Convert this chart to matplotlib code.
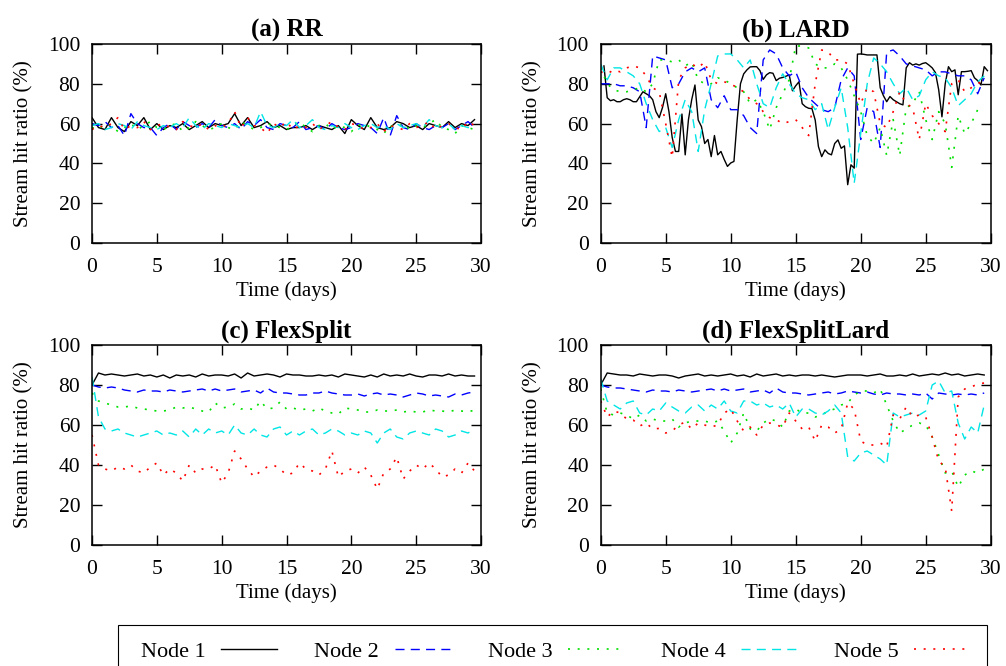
import numpy as np
import matplotlib
matplotlib.use('Agg')
import matplotlib.pyplot as plt
from matplotlib.patches import Rectangle

plt.rcParams['font.family'] = ['Liberation Serif', 'DejaVu Serif']
plt.rcParams['font.size'] = 15

# sampling: every 12 h, except LARD node 1 which is read every 6 h
t_half = np.arange(60) * 0.5
t_quarter = np.arange(1, 120) * 0.25

node_names = ['Node 1', 'Node 2', 'Node 3', 'Node 4', 'Node 5']

# (a) RR
rr_node1 = [63, 58, 57, 63, 58, 56, 61, 59, 63, 57, 60, 57, 59, 58, 60, 57, 59, 61, 58, 60,
            59, 60, 65, 59, 63, 58, 59, 61, 58, 59, 57, 58, 58, 59, 57, 59, 58, 57, 59, 55,
            62, 59, 57, 63, 58, 57, 58, 61, 60, 58, 59, 57, 60, 59, 58, 61, 58, 60, 59, 62]
rr_node2 = [60, 59, 61, 58, 59, 54, 65, 60, 58, 58, 54, 58, 60, 57, 61, 59, 58, 60, 58, 62,
            59, 58, 60, 57, 61, 59, 62, 58, 57, 60, 59, 58, 61, 57, 58, 59, 57, 60, 58, 57,
            58, 60, 59, 58, 55, 63, 54, 64, 58, 57, 60, 58, 57, 59, 58, 60, 57, 59, 61, 58]
rr_node3 = [58, 57, 60, 59, 56, 58, 60, 57, 59, 61, 58, 57, 59, 60, 56, 58, 61, 59, 57, 58,
            60, 58, 57, 61, 59, 57, 58, 60, 59, 58, 57, 59, 61, 58, 56, 59, 60, 57, 59, 58,
            56, 59, 60, 58, 57, 55, 59, 58, 60, 57, 59, 58, 60, 62, 58, 57, 55, 59, 58, 57]
rr_node4 = [59, 60, 57, 58, 60, 59, 57, 61, 59, 58, 57, 59, 58, 60, 58, 63, 59, 57, 60, 59,
            58, 60, 59, 58, 60, 58, 66, 59, 58, 60, 59, 62, 58, 59, 62, 58, 57, 59, 58, 60,
            58, 57, 59, 60, 58, 59, 57, 60, 58, 59, 60, 58, 62, 59, 58, 60, 57, 59, 58, 58]
rr_node5 = [57, 59, 58, 60, 63, 57, 59, 58, 61, 57, 59, 60, 58, 57, 61, 59, 58, 60, 57, 59,
            58, 60, 66, 58, 63, 59, 58, 55, 60, 58, 61, 57, 59, 58, 60, 57, 59, 61, 58, 57,
            60, 59, 57, 58, 60, 56, 59, 58, 57, 60, 58, 59, 61, 57, 59, 60, 58, 57, 61, 59]

# (b) LARD
lard_node1 = [89, 73, 71.5, 72, 71, 71, 72, 72.5, 72, 71,
              71, 73.5, 76, 75, 74, 72, 66, 63, 68, 75,
              66, 53, 46, 46, 64.8, 44.3, 62, 72, 79.4, 61.8,
              58.5, 50, 52, 43.4, 54, 44.3, 46, 42, 38.5, 40.2,
              41, 62, 80, 85, 87, 88.5, 88.6, 88.6, 86.6, 82.2,
              84.5, 85.6, 85.3, 81.6, 82.8, 83.2, 83.8, 84.5, 76.5, 79,
              81, 70, 68.5, 67.7, 67.5, 61.8, 48.4, 43.4, 46.8, 45,
              44.3, 50, 51.8, 47.6, 48.8, 29.3, 39.3, 37.6, 94.9, 95,
              94.8, 94.5, 94.5, 94.5, 94.5, 78, 74, 71, 73.6, 72,
              71, 70, 69.4, 88, 90.6, 89.4, 90, 89.4, 90.2, 90.6,
              89.4, 88, 85.6, 77, 63.4, 80, 88.6, 86.1, 87, 74.5,
              86.1, 86.1, 86.3, 86.6, 83, 81.6, 79.4, 88.6, 86.6]
lard_node2 = [80, 80, 80, 79, 79, 78, 76, 58, 94, 93, 92, 78, 80, 86, 88, 86, 88, 72, 68, 74,
              67, 67, 64, 58, 55, 92, 97, 95, 88, 84, 86, 78, 73, 70, 67, 66, 68, 82, 88, 84,
              52, 68, 66, 48, 96, 97, 94, 90, 89, 88, 87, 84, 86, 86, 85, 84, 84, 82, 75, 83]
lard_node3 = [88, 80, 77, 76, 76, 77, 78, 76, 80, 92, 92, 91, 92, 89, 91, 82, 80, 80, 83, 82,
              80, 78, 76, 70, 72, 66, 57, 68, 75, 82, 99, 99, 98, 90, 88, 88, 90, 88, 82, 74,
              66, 54, 50, 58, 44, 62, 44, 68, 70, 76, 62, 52, 66, 60, 38, 64, 55, 60, 67, 66]
lard_node4 = [90, 82, 88, 88, 86, 84, 80, 70, 62, 56, 58, 48, 62, 72, 66, 46, 67, 80, 94, 95,
              95, 92, 88, 92, 80, 70, 68, 78, 85, 80, 75, 73, 72, 67, 70, 57, 68, 78, 58, 30,
              55, 80, 93, 90, 86, 80, 75, 78, 72, 74, 82, 86, 84, 83, 78, 69, 72, 75, 81, 84]
lard_node5 = [86, 85, 87, 86, 88, 89, 88, 84, 78, 76, 60, 43, 82, 88, 90, 88, 91, 82, 80, 81,
              80, 78, 76, 72, 70, 66, 63, 62, 60, 61, 62, 58, 54, 80, 97, 96, 92, 92, 90, 80,
              70, 78, 76, 60, 58, 66, 76, 70, 68, 52, 70, 64, 60, 56, 80, 82, 76, 78, 80, 82]

# (c) FlexSplit
fs_node1 = [80, 86, 85, 85.5, 85, 84.5, 85, 85.5, 84.5, 85, 84, 85, 83.5, 85, 84.5, 85, 84, 85.5, 84.5, 85,
            85, 84.5, 85.5, 83.5, 86, 84.5, 85, 85.5, 85, 84, 85.5, 85, 85, 84.5, 84.5, 85, 84.5, 85, 84, 85.5,
            85, 84.5, 84, 85, 84, 85.5, 84.5, 85, 84.5, 85.5, 84.5, 84, 85, 85, 84.5, 85.5, 84.5, 85, 84.5, 84.5]
fs_node2 = [80, 79, 78.5, 79, 78.5, 77.5, 77, 76.5, 77.5, 77, 77, 76.5, 77.5, 77, 76.5, 77, 77.5, 78, 77, 78,
            77, 77.5, 78, 76.5, 77, 77.5, 76, 78.5, 76.5, 76, 76, 75.5, 75, 75, 76, 76, 77, 76, 75.5, 75,
            75, 75.5, 74.5, 75.5, 76, 75, 75.5, 75, 74, 75, 76, 75.5, 74.5, 75, 74.5, 74, 75.5, 75, 76, 76.5]
fs_node3 = [76, 72, 71, 70, 69, 69, 69.5, 68.5, 68, 67.5, 67, 67, 67.5, 69, 68.5, 69, 68, 67, 66.5, 71,
            68.5, 69, 70.5, 68, 68.5, 67.5, 72, 68, 68.5, 71.5, 68, 68.5, 67.5, 68, 67, 68.5, 67, 66, 65.5, 68.5,
            68, 67.5, 66.5, 66.5, 67.5, 67, 67, 67.5, 66.5, 67, 66.5, 66.5, 67.5, 67, 67, 66.5, 67.5, 67, 66.5, 67.5]
fs_node4 = [84, 64, 58, 57, 58, 56, 55, 54, 55, 56, 57, 55, 56, 55, 57, 54, 58, 55, 58, 56,
            57, 55, 60, 56, 55, 58, 55, 54, 58, 59, 55, 57, 55, 57, 58, 55, 56, 58, 57, 55,
            56, 55, 57, 56, 51, 56, 58, 54, 53, 56, 57, 56, 55, 58, 57, 54, 55, 57, 56, 58]
fs_node5 = [55, 40, 38, 37, 39, 38, 40, 37, 36, 39, 41, 35, 38, 36, 32, 40, 36, 38, 38, 40,
            31, 36, 47, 43, 38, 34, 37, 39, 40, 38, 35, 36, 41, 38, 37, 35, 38, 47, 34, 37,
            38, 36, 39, 35, 28, 36, 38, 44, 33, 37, 40, 38, 41, 38, 34, 35, 38, 36, 41, 37]

# (d) FlexSplitLard
fsl_node1 = [80, 86, 85.5, 85, 85, 84.5, 85.5, 85, 84.5, 85, 85, 84.5, 83.5, 84.5, 85, 85.5, 84.5, 85, 84.5, 85,
             85.5, 84.5, 85, 84, 85.5, 84.5, 85, 85.5, 84.5, 85, 84.5, 85, 85, 84.5, 85, 84.5, 84, 84.5, 85, 85,
             85, 84.5, 85, 85.5, 84.5, 84.5, 85, 84.5, 85.5, 84.5, 85, 85.5, 85, 86, 85, 85.5, 84.5, 85, 85.5, 85]
fsl_node2 = [80, 79, 78.5, 78.5, 78, 77.5, 77, 76.5, 77.5, 77, 77, 76.5, 77.5, 77, 76.5, 77, 77.5, 78, 77, 78,
             77, 77.5, 78, 76.5, 77, 77.5, 76, 78.5, 76.5, 76, 76, 75.5, 75, 75.5, 76, 76.5, 75.5, 76, 77, 76.5,
             76, 76.5, 75.5, 75, 76, 75.5, 75.5, 75, 75.5, 75, 76, 73, 76, 75.5, 75, 75.5, 75, 75.5, 75, 76]
fsl_node3 = [78, 66, 65, 66, 65, 63, 65, 62, 63, 62, 62, 63, 59, 61, 62, 62, 62, 61, 62, 57,
             51, 56, 66, 58, 57, 61, 63, 62, 59, 67, 68, 66, 66, 64, 65, 67, 68, 70, 71, 75,
             77, 77, 76, 78, 70, 62, 56, 58, 60, 61, 60, 54, 45, 36, 37, 29, 35, 37, 36, 38]
fsl_node4 = [83, 72, 70, 68, 71, 72, 66, 65, 68, 67, 71, 69, 67, 66, 69, 70, 67, 70, 68, 72,
             67, 66, 72, 72, 70, 71, 69, 70, 68, 71, 64, 68, 68, 66, 65, 67, 70, 66, 44, 42,
             46, 47, 45, 43, 40, 66, 64, 65, 66, 65, 67, 80, 82, 76, 77, 61, 53, 59, 56, 70]
fsl_node5 = [72, 64, 67, 66, 63, 62.5, 59.5, 61, 58, 58.3, 56, 57, 60, 61.5, 58, 61, 60, 59, 60, 66,
             68, 62, 57, 59, 55, 60, 61, 60, 59, 66, 62, 58, 59, 52, 60, 59, 56, 58, 71, 68,
             52, 50, 50, 51, 49, 65, 63, 69, 64, 65, 64, 54, 42, 39, 17, 74, 78, 79, 80.5, 81]

styles = [
    dict(color='black', linestyle='-', linewidth=1.0),
    dict(color='#0000ff', linestyle=(0, (6.5, 4.5)), linewidth=1.0),
    dict(color='#00e000', linestyle=(0, (1.2, 4.6)), linewidth=1.2),
    dict(color='#00e5e5', linestyle=(0, (6.5, 4.5)), linewidth=1.0),
    dict(color='#ff0000', linestyle=(0, (1.2, 4.6)), linewidth=1.2),
]

W, H = 1006, 666
fig = plt.figure(figsize=(W / 100, H / 100), dpi=100)

panels = [
    ('(a) RR', [92, 44, 481, 243], [rr_node1, rr_node2, rr_node3, rr_node4, rr_node5]),
    ('(b) LARD', [600.7, 44, 990.7, 243], [lard_node1, lard_node2, lard_node3, lard_node4, lard_node5]),
    ('(c) FlexSplit', [92, 345, 481, 545], [fs_node1, fs_node2, fs_node3, fs_node4, fs_node5]),
    ('(d) FlexSplitLard', [600.7, 345, 990.7, 545], [fsl_node1, fsl_node2, fsl_node3, fsl_node4, fsl_node5]),
]

handles = []
for title, (x0, y0, x1, y1), series in panels:
    ax = fig.add_axes([x0 / W, 1 - y1 / H, (x1 - x0) / W, (y1 - y0) / H])
    lines = []
    for vals, st in zip(series, styles):
        t = t_quarter if len(vals) == len(t_quarter) else t_half
        ln, = ax.plot(t, vals, **st)
        lines.append(ln)
    if not handles:
        handles = lines
    ax.set_xlim(0, 30)
    ax.set_ylim(0, 100)
    ax.set_xticks(range(0, 31, 5))
    ax.set_yticks(range(0, 101, 20))
    ax.tick_params(direction='in', top=True, right=True, length=7, width=1.0,
                   labelsize=15.5)
    ax.tick_params(axis='x', pad=11)
    ax.tick_params(axis='y', pad=8.5)
    for sp in ax.spines.values():
        sp.set_linewidth(1.1)
    ax.set_title(title, fontweight='bold', pad=5.5)
    ax.set_xlabel('Time (days)', labelpad=3)
    ax.set_ylabel('Stream hit ratio (%)', labelpad=10)

# legend box drawn on its own, entries laid out inside it
fig.patches.append(Rectangle((118 / W, 1 - 672 / H), 869 / W, 47 / H,
                             transform=fig.transFigure, fill=False,
                             edgecolor='black', linewidth=0.8))
leg = fig.legend(handles, node_names, loc='upper left',
                 bbox_to_anchor=(141 / W, 1 - 641 / H, 829 / W, 0), mode='expand',
                 borderaxespad=0, borderpad=0, ncol=5, markerfirst=False,
                 frameon=False, handlelength=2.5, handletextpad=0.7, fontsize=16)

fig.savefig('out.png', dpi=100)
